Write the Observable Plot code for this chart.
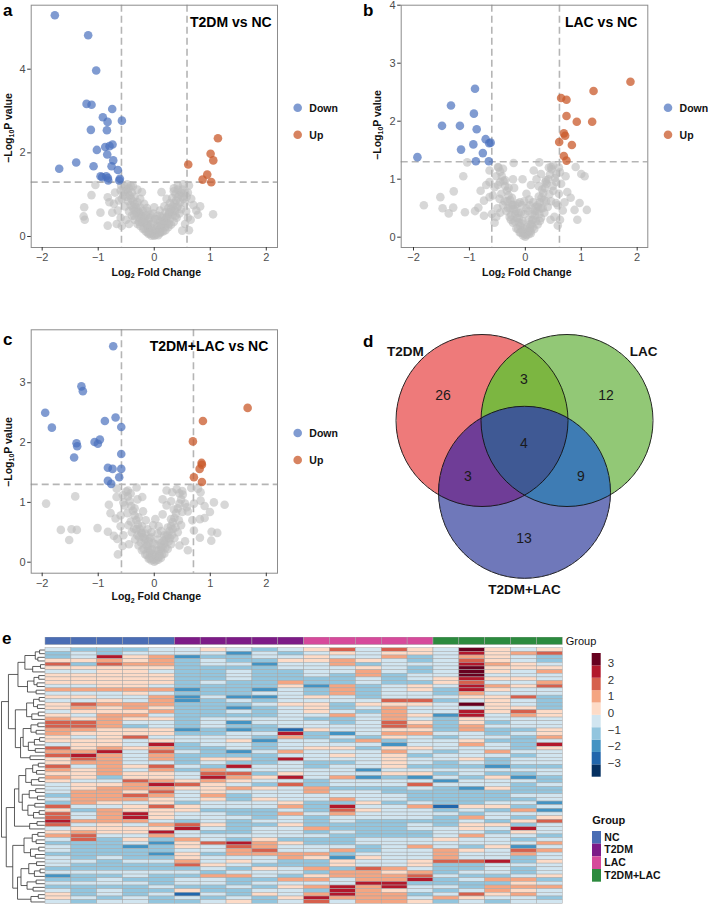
<!DOCTYPE html>
<html><head><meta charset="utf-8">
<script src="https://cdn.jsdelivr.net/npm/d3@7"></script>
<script src="https://cdn.jsdelivr.net/npm/@observablehq/plot@0.6"></script>
<style>
body{margin:0;background:#fff;}
#root{position:relative;width:708px;height:905px;overflow:hidden;background:#fff;font-family:"Liberation Sans",Arial,Helvetica,sans-serif;}
#root svg{position:absolute;}
</style></head>
<body><div id="root"></div>
<script>
// ---------------- DATA ----------------
// Volcano a: T2DM vs NC  ([log2FC, -log10 P])
const aDown = [[-1.774,5.29],[-1.179,4.81],[-1.036,3.97],[-1.208,3.17],[-1.119,3.15],[-0.75,3.05],[-0.917,2.85],[-0.833,2.74],[-0.577,2.77],[-1.131,2.55],[-0.845,2.54],[-0.744,2.2],[-0.798,2.16],[-0.875,2.14],[-1.024,2.07],[-0.839,1.96],[-0.732,1.82],[-1.393,1.77],[-1.083,1.68],[-0.762,1.68],[-1.696,1.62],[-0.649,1.59],[-0.929,1.42],[-0.857,1.44],[-0.827,1.4],[-0.613,1.38],[-0.958,1.44],[-0.821,1.34],[-0.625,1.34]];
const aUp = [[1.137,2.35],[1.006,1.98],[1.054,1.82],[0.607,1.72],[0.946,1.48],[0.863,1.36],[1.018,1.3]];
const aGrey = [[0,0.02],[-0.02,0.05],[0.03,0.04],[-0.05,0.1],[0.06,0.12],[-0.08,0.15],[0.09,0.18],[-0.11,0.22],[0.12,0.2],[-0.14,0.28],[0.15,0.3],[-0.17,0.33],[0.18,0.36],[-0.2,0.4],[0.21,0.44],[-0.23,0.48],[0.24,0.5],[-0.26,0.55],[0.27,0.58],[-0.29,0.62],[0.3,0.66],[-0.32,0.7],[0.33,0.72],[-0.35,0.77],[0.36,0.8],[-0.38,0.84],[0.39,0.86],[-0.41,0.9],[0.42,0.93],[-0.44,0.98],[0.45,1.0],[-0.47,1.05],[0.48,1.05],[-0.5,1.12],[0.5,1.12],[-0.53,1.2],[-0.1,0.06],[0.1,0.08],[-0.15,0.12],[0.16,0.12],[-0.2,0.18],[0.2,0.15],[-0.25,0.25],[0.25,0.22],[-0.3,0.3],[0.3,0.28],[-0.35,0.4],[0.35,0.35],[-0.4,0.5],[0.4,0.45],[-0.45,0.6],[0.45,0.55],[-0.05,0.3],[0.05,0.25],[-0.1,0.4],[0.1,0.35],[-0.15,0.5],[0.15,0.45],[-0.2,0.6],[0.2,0.58],[-0.25,0.7],[0.25,0.68],[-0.3,0.82],[0.28,0.8],[-0.35,0.95],[0.32,0.92],[-0.4,1.05],[0.38,1.02],[-0.45,1.15],[0.42,1.12],[-1.25,0.7],[-1.26,0.48],[-1.24,0.4],[-1.12,0.99],[-1.05,1.23],[-0.96,0.57],[-0.83,0.26],[-0.83,0.94],[-0.8,0.82],[-0.72,0.78],[-0.75,0.57],[-0.63,0.86],[-0.59,1.22],[-0.55,0.98],[-0.6,0.45],[-0.58,0.25],[-0.65,0.62],[-0.7,1.05],[-0.67,0.3],[-0.52,0.72],[-0.5,0.4],[-0.45,0.3],[-0.38,1.2],[-0.3,1.12],[-0.22,1.06],[0.13,1.06],[0.35,1.15],[0.42,1.22],[0.52,1.25],[0.6,1.05],[0.62,1.22],[0.66,0.9],[0.7,0.75],[0.55,0.8],[0.57,0.6],[0.6,0.45],[0.65,0.4],[0.55,0.3],[0.5,0.14],[0.75,0.62],[0.82,0.72],[0.78,0.52],[1.05,0.53],[0.62,0.15],[0.48,0.65],[0.52,0.9],
  [-0.05,0.02],[0.07,0.03],[-0.12,0.1],[0.13,0.12],[-0.18,0.2],[0.19,0.22],[-0.22,0.35],[0.22,0.32],[-0.27,0.45],[0.28,0.42],[-0.32,0.55],[0.33,0.52],[-0.37,0.65],[0.37,0.62],[-0.42,0.75],[0.42,0.72],[-0.47,0.85],[0.46,0.82],[-0.5,0.95],[0.5,0.95],[-0.55,1.08],[0.55,1.05],[-0.08,0.45],[0.06,0.42],[-0.12,0.6],[0.1,0.62],[-0.02,0.55],[0,0.7],[-0.18,0.78],[0.18,0.72],[-0.25,0.9],[0.22,0.9],[-0.42,1.22],[-0.48,1.25],[0.35,1.08],[0.4,0.7],[-0.38,0.7],[-0.6,1.1],[-0.58,0.9],[0.58,0.95],
  [-0.03,0.14],[0.03,0.16],[-0.07,0.22],[0.08,0.24],[-0.12,0.3],[0.12,0.28],[-0.17,0.42],[0.17,0.38],[-0.22,0.5],[0.23,0.46],[-0.28,0.58],[0.27,0.55],[-0.02,0.35],[0.02,0.42],[-0.07,0.52],[0.06,0.5],[-0.13,0.68],[0.12,0.48],[-0.33,0.6],[0.32,0.6],[-0.27,0.35],[0.26,0.3],[-0.36,0.5],[0.38,0.5],[-0.08,0.08],[0.09,0.1]];

// Volcano b: LAC vs NC
const bDown = [[-1.93,1.38],[-1.49,1.92],[-1.33,2.27],[-1.17,1.92],[-1.15,1.51],[-0.9,2.56],[-0.92,2.13],[-0.87,1.86],[-0.93,1.6],[-0.71,1.69],[-0.76,1.45],[-0.62,1.63],[-0.647,1.62],[-0.885,1.31],[-0.653,1.31]];
const bUp = [[1.88,2.68],[1.22,2.52],[0.64,2.4],[0.736,2.37],[0.736,2.09],[0.92,1.99],[1.195,1.99],[0.689,1.79],[0.712,1.75],[0.605,1.64],[0.832,1.59],[0.689,1.4],[0.736,1.32]];
const bGrey = [[0,0.01],[0.02,0.04],[-0.03,0.06],[0.05,0.1],[-0.06,0.12],[0.08,0.16],[-0.09,0.19],[0.11,0.22],[-0.12,0.26],[0.14,0.3],[-0.15,0.33],[0.17,0.38],[-0.18,0.4],[0.2,0.45],[-0.21,0.48],[0.23,0.52],[-0.24,0.56],[0.26,0.6],[-0.27,0.64],[0.29,0.68],[-0.3,0.72],[0.32,0.76],[-0.33,0.8],[0.35,0.85],[-0.36,0.88],[0.38,0.92],[-0.39,0.97],[0.41,1.0],[-0.42,1.05],[0.44,1.08],[-0.45,1.13],[0.47,1.17],[-0.48,1.2],[0.5,1.24],[-0.1,0.08],[0.1,0.07],[-0.16,0.15],[0.16,0.14],[-0.22,0.25],[0.22,0.22],[-0.28,0.35],[0.28,0.33],[-0.34,0.45],[0.34,0.42],[-0.4,0.55],[0.4,0.52],[-0.46,0.66],[0.46,0.62],[-0.05,0.28],[0.06,0.3],[-0.12,0.42],[0.12,0.4],[-0.18,0.55],[0.18,0.52],[-0.24,0.68],[0.24,0.7],[-0.3,0.85],[0.3,0.82],[-0.36,0.98],[0.36,0.95],[-0.2,0.85],[0.2,1.0],[-0.1,0.6],[0.08,0.55],[-1.815,0.55],[-1.52,0.69],[-1.48,0.5],[-1.28,0.79],[-1.29,0.51],[-1.37,0.41],[-1.08,0.43],[-1.11,1.05],[-1.04,1.29],[-0.8,0.8],[-0.74,0.63],[-0.84,0.51],[-0.74,0.37],[-0.64,0.69],[-0.64,0.95],[-0.64,1.15],[-0.49,1.21],[-0.21,1.28],[-0.55,0.86],[-0.9,0.45],[-0.6,0.4],[-0.55,0.25],[-0.5,0.5],[-0.7,0.9],[0.25,1.29],[0.28,1.09],[0.37,0.98],[0.46,1.21],[0.55,1.09],[0.64,0.92],[0.9,1.21],[1.0,1.09],[1.06,1.05],[0.81,0.68],[0.97,0.59],[1.1,0.47],[0.88,0.47],[0.93,0.3],[0.67,0.46],[0.55,0.59],[0.6,0.75],[0.7,0.6],[0.52,0.35],[0.58,0.2],[0.62,0.3],[0.75,0.78],[0.5,0.8],[0.15,1.15],[0.1,0.9],[-0.05,1.0],[0.62,1.12],[0.6,1.2],[0.72,1.05],
  [-0.04,0.03],[0.06,0.05],[-0.13,0.14],[0.13,0.17],[-0.19,0.27],[0.19,0.28],[-0.25,0.38],[0.25,0.4],[-0.31,0.5],[0.31,0.5],[-0.37,0.62],[0.37,0.62],[-0.43,0.75],[0.43,0.74],[-0.49,0.9],[0.49,0.88],[-0.52,1.05],[0.53,1.02],[-0.08,0.42],[0.05,0.45],[-0.14,0.58],[0.14,0.6],[-0.02,0.62],[0.02,0.75],[-0.22,1.0],[0.24,0.88],[-0.4,1.18],[-0.45,0.95],[0.42,1.2],[0.55,0.95],[-0.58,0.72],[0.58,0.55],[-0.52,0.35],[-0.45,0.42],[0.45,0.3],
  [-0.03,0.15],[0.03,0.17],[-0.07,0.24],[0.08,0.22],[-0.12,0.33],[0.12,0.3],[-0.17,0.45],[0.17,0.45],[-0.22,0.55],[0.22,0.55],[-0.27,0.5],[0.28,0.5],[-0.02,0.4],[0.02,0.5],[-0.06,0.55],[0.07,0.65],[-0.32,0.62],[0.33,0.64],[-0.26,0.3],[0.26,0.28],[-0.08,0.08],[0.09,0.1]];

// Volcano c: T2DM+LAC vs NC
const cDown = [[-0.732,3.61],[-1.3,2.94],[-1.274,2.86],[-1.946,2.5],[-1.827,2.25],[-0.881,2.36],[-0.69,2.42],[-0.589,2.26],[-1.065,2.01],[-0.97,2.05],[-1.006,1.98],[-1.387,1.99],[-1.375,1.94],[-1.43,1.75],[-0.589,1.81],[-0.827,1.58],[-0.744,1.56],[-0.589,1.56],[-0.625,1.42],[-0.827,1.36],[-0.768,1.31]];
const cUp = [[1.667,2.58],[0.869,2.36],[0.69,2.02],[0.845,1.66],[0.851,1.63],[0.81,1.56],[0.708,1.42],[0.851,1.34]];
const cGrey = [[0,0.01],[0.03,0.03],[-0.02,0.05],[0.06,0.08],[-0.05,0.1],[0.09,0.13],[-0.08,0.16],[0.12,0.19],[-0.11,0.22],[0.15,0.25],[-0.14,0.28],[0.18,0.31],[-0.17,0.35],[0.21,0.38],[-0.2,0.42],[0.24,0.45],[-0.23,0.49],[0.27,0.52],[-0.26,0.56],[0.3,0.6],[-0.29,0.63],[0.33,0.67],[-0.32,0.7],[0.36,0.74],[-0.35,0.78],[0.39,0.82],[-0.38,0.86],[0.42,0.9],[-0.41,0.94],[0.45,0.98],[-0.44,1.02],[0.48,1.05],[-0.47,1.1],[0.51,1.13],[-0.5,1.18],[-0.1,0.06],[0.12,0.07],[-0.16,0.13],[0.18,0.14],[-0.22,0.2],[0.24,0.22],[-0.28,0.28],[0.3,0.3],[-0.34,0.38],[0.36,0.4],[-0.4,0.5],[0.42,0.5],[-0.46,0.62],[0.48,0.62],[-0.04,0.22],[0.05,0.2],[-0.1,0.35],[0.12,0.32],[-0.16,0.48],[0.18,0.45],[-0.22,0.6],[0.24,0.58],[-0.28,0.75],[0.3,0.72],[-0.35,0.9],[0.35,0.88],[-0.15,0.7],[0.15,0.8],[0.08,0.6],[-0.05,0.5],[-1.93,0.98],[-1.41,1.1],[-1.667,0.54],[-1.476,0.55],[-1.381,0.54],[-1.518,0.37],[-1.012,0.57],[-0.81,0.96],[-0.78,0.82],[-0.827,0.51],[-0.72,0.44],[-0.66,0.39],[-0.649,0.13],[-0.565,0.27],[-0.69,0.73],[-0.673,1.09],[-0.67,1.23],[-0.47,1.2],[-0.315,1.25],[-0.214,1.09],[-0.55,1.0],[-0.6,0.6],[-0.55,0.45],[0.661,1.24],[0.78,1.23],[0.827,1.17],[0.5,1.19],[0.32,1.17],[0.708,0.98],[0.827,1.03],[1.065,1.0],[1.256,0.96],[0.899,0.94],[0.994,0.84],[0.815,0.72],[0.899,0.74],[1.024,0.51],[1.125,0.49],[1.018,0.36],[0.815,0.41],[0.708,0.53],[0.68,0.7],[0.6,0.85],[0.55,0.35],[0.6,0.2],[0.15,1.05],[0.22,1.2],[0.4,1.22],
  [-0.05,0.03],[0.07,0.04],[-0.13,0.12],[0.14,0.13],[-0.19,0.22],[0.2,0.24],[-0.24,0.33],[0.26,0.35],[-0.3,0.45],[0.32,0.46],[-0.36,0.56],[0.38,0.58],[-0.42,0.68],[0.44,0.7],[-0.48,0.82],[0.5,0.84],[-0.53,0.95],[0.55,0.98],[-0.08,0.4],[0.07,0.38],[-0.12,0.55],[0.12,0.52],[-0.02,0.62],[0.02,0.72],[-0.2,0.85],[0.22,0.95],[-0.42,1.15],[-0.56,1.12],[0.45,1.15],[0.58,0.92],[-0.6,0.78],[-0.45,0.3],[0.45,0.28],[-0.3,1.05],[0.3,1.02],
  [-0.03,0.13],[0.03,0.12],[-0.07,0.2],[0.08,0.2],[-0.12,0.28],[0.12,0.26],[-0.17,0.4],[0.17,0.36],[-0.22,0.48],[0.22,0.44],[-0.27,0.42],[0.28,0.4],[-0.02,0.32],[0.02,0.3],[-0.06,0.42],[0.06,0.48],[-0.32,0.55],[0.33,0.55],[-0.08,0.07],[0.09,0.09]];

// Venn d
const vennSets = ["T2DM","LAC","T2DM+LAC"];
const vennMasks = [1,2,3,4,5,6,7];           // bit 1=T2DM, 2=LAC, 4=T2DM+LAC
const vennCounts = [26,12,3,13,3,9,4];
const vennColors = ["#ee7a7a","#92c876","#7cb641","#6f78ba","#6f3d97","#3e7cb4","#3f5994"];

// Heatmap e (z-scores, 70 metabolites x 20 samples)
const groups = ["NC","T2DM","LAC","T2DM+LAC"];
const groupColors = ["#4a6db4","#7d1b87","#d64a9b","#2c8a3e"];
const samples = ["NC1","NC2","NC3","NC4","NC5","T2DM1","T2DM2","T2DM3","T2DM4","T2DM5","LAC1","LAC2","LAC3","LAC4","LAC5","TL1","TL2","TL3","TL4","TL5"];
const NC1 = [-0.4,-1.1,-1.1,0.4,1.9,0.4,-0.4,0.4,0.4,0.4,-0.4,1.1,-0.4,0.4,-0.4,0.4,0.4,-0.4,0.4,1.1,1.9,1.9,1.1,1.1,0.4,0.4,-0.4,1.9,1.1,1.9,0.4,0.4,1.9,1.1,0.4,1.1,0.4,-0.4,-0.4,-0.4,-1.1,-0.4,-1.1,1.9,0.4,1.9,1.9,2.6,1.9,-0.4,0.4,1.1,-0.4,-1.1,-0.4,-0.4,-1.1,-0.4,-0.4,-0.4,-1.1,-0.4,-1.9,-1.1,-0.4,-1.1,-0.4,0.4,0.4,-0.4];
const NC2 = [-1.1,-0.4,-0.4,0.4,-1.1,0.4,-0.4,0.4,0.4,0.4,-0.4,1.1,-0.4,0.4,-0.4,1.9,1.1,0.4,-0.4,0.4,1.9,1.9,1.1,0.4,-0.4,0.4,0.4,0.4,1.1,2.6,1.9,1.1,-0.4,0.4,0.4,0.4,-0.4,0.4,0.4,1.1,1.1,1.1,1.1,-0.4,-1.1,-0.4,-0.4,1.1,-0.4,0.4,1.1,1.9,1.9,-1.1,-1.1,-1.1,-1.1,-1.1,-0.4,-1.1,-1.1,-0.4,-1.1,-1.1,-0.4,-1.1,-1.1,-1.1,-0.4,-1.1];
const NC3 = [-1.1,-1.1,2.6,1.1,1.9,0.4,0.4,0.4,0.4,0.4,0.4,1.1,-0.4,-0.4,0.4,1.1,0.4,0.4,1.1,1.1,1.1,1.1,0.4,0.4,0.4,0.4,0.4,1.1,2.6,1.1,1.1,1.1,1.1,1.1,1.1,-1.1,-0.4,0.4,1.1,1.1,1.1,1.1,0.4,-0.4,1.1,1.1,1.1,1.1,0.4,0.4,0.4,-0.4,-1.1,-1.1,-1.1,-1.1,-1.1,-0.4,-1.1,-1.1,-1.1,-0.4,-1.1,-0.4,-0.4,-1.1,-0.4,-0.4,-1.1,-0.4];
const NC4 = [-1.1,-0.4,0.4,0.4,1.1,0.4,0.4,0.4,0.4,0.4,0.4,1.1,0.4,-0.4,-0.4,1.1,1.1,0.4,1.1,0.4,-0.4,-1.1,0.4,0.4,1.9,-0.4,-0.4,0.4,-0.4,-0.4,-0.4,-0.4,0.4,-0.4,0.4,0.4,1.9,1.1,1.1,0.4,1.9,1.1,-0.4,0.4,0.4,2.6,2.6,1.1,-0.4,0.4,0.4,-0.4,0.4,-0.4,-1.9,-1.1,-1.1,-1.1,-0.4,-1.1,-1.1,-0.4,-0.4,-1.1,-0.4,-1.1,-1.1,-1.1,-0.4,-0.4];
const NC5 = [-0.4,-0.4,1.1,1.1,1.1,0.4,-0.4,0.4,0.4,0.4,-0.4,1.1,-0.4,1.1,1.1,1.1,0.4,1.1,-0.4,0.4,-0.4,-0.4,0.4,0.4,-0.4,0.4,2.6,1.1,1.9,1.1,1.1,-0.4,1.9,1.1,0.4,0.4,1.1,2.6,1.1,1.9,1.1,0.4,0.4,1.9,0.4,0.4,0.4,-0.4,1.1,0.4,2.6,1.1,-1.1,-1.9,-1.1,-1.1,-1.9,-1.1,-0.4,-1.1,-1.1,-0.4,-1.1,-1.1,-1.1,-0.4,-1.1,-0.4,-1.1,-1.1];
const T2DM1 = [-0.4,-0.4,-1.9,-1.1,-1.1,-1.1,-1.1,-1.1,-1.1,-1.1,-1.1,-1.9,-1.1,-1.9,-1.9,-1.1,-1.1,-1.1,-1.1,-1.1,-1.1,-1.1,-1.9,-1.1,-0.4,-0.4,-1.1,-1.1,-0.4,-1.1,-1.1,-1.1,-0.4,-1.1,-0.4,-0.4,0.4,1.9,0.4,-0.4,-0.4,-0.4,-1.1,0.4,0.4,-0.4,-0.4,-1.1,1.9,2.6,-0.4,-0.4,1.1,0.4,0.4,-0.4,0.4,0.4,1.1,1.9,-1.1,-0.4,-1.1,-0.4,-0.4,-1.1,0.4,-2.6,-0.4,-1.1];
const T2DM2 = [0.4,-0.4,-1.1,-0.4,-0.4,-1.1,-1.1,-1.1,-1.1,-0.4,-1.1,-1.1,-1.1,-0.4,-1.1,-1.1,-1.1,-1.1,-1.1,-0.4,-0.4,-0.4,-1.1,-1.1,-0.4,-0.4,-0.4,-1.1,-1.1,-1.1,0.4,-0.4,-1.1,1.1,1.9,2.6,1.1,0.4,0.4,0.4,1.1,0.4,-0.4,-0.4,-1.1,-0.4,-0.4,-0.4,0.4,-0.4,-1.1,-0.4,-0.4,1.9,-0.4,-0.4,-1.1,-0.4,-0.4,0.4,-0.4,-1.1,1.1,-0.4,-0.4,-1.1,-1.1,-0.4,-1.1,-0.4];
const T2DM3 = [-0.4,-1.9,-1.1,-1.1,-0.4,-1.1,-0.4,-0.4,-0.4,-1.1,-1.1,-1.1,-1.1,-1.9,-0.4,-1.1,-1.9,-0.4,-1.1,-0.4,-1.9,-1.1,-1.9,-0.4,-0.4,0.4,-0.4,-0.4,-1.9,-1.1,0.4,-1.1,2.6,-0.4,1.9,1.1,0.4,-0.4,1.1,-0.4,-1.1,-1.1,-0.4,-0.4,-1.1,-1.1,-0.4,-1.1,-1.1,-1.1,-1.1,-0.4,-1.1,2.6,1.9,1.1,1.1,-0.4,0.4,-0.4,-1.1,-0.4,1.1,-1.1,-1.1,-0.4,-1.1,-1.1,-0.4,0.4];
const T2DM4 = [-1.1,-0.4,-0.4,-1.1,-1.9,-1.1,-1.1,-1.1,-1.1,-1.1,-1.1,-1.9,-0.4,-1.9,-1.1,-0.4,-1.1,-1.1,-1.1,-0.4,-0.4,-1.1,-1.1,-0.4,-1.1,-1.9,-1.1,-1.1,-0.4,-1.1,-1.1,-1.1,-0.4,-0.4,-1.1,0.4,-0.4,-1.1,0.4,-0.4,-0.4,0.4,-0.4,-0.4,-1.1,-1.1,-1.1,-0.4,-1.1,-0.4,-0.4,-0.4,0.4,1.1,1.1,1.9,1.1,-0.4,-0.4,-1.1,0.4,-0.4,-0.4,-1.1,-0.4,-1.1,-0.4,0.4,-1.1,-1.1];
const T2DM5 = [-0.4,-1.1,-0.4,0.4,-0.4,-0.4,-1.1,-1.1,-1.1,1.1,0.4,-0.4,-0.4,-0.4,-0.4,0.4,-0.4,-0.4,-0.4,-0.4,-0.4,-0.4,-2.6,2.6,1.1,-0.4,-0.4,-0.4,1.1,-0.4,2.6,-0.4,-0.4,-0.4,0.4,2.6,-0.4,1.9,-0.4,-0.4,-0.4,-0.4,0.4,1.1,-0.4,1.1,-0.4,-0.4,0.4,-0.4,-0.4,-0.4,-1.1,0.4,-0.4,-0.4,1.1,1.1,-1.1,-1.1,-0.4,-0.4,-1.1,1.1,-0.4,0.4,-0.4,-0.4,0.4,-0.4];
const LAC1 = [0.4,-0.4,0.4,0.4,-0.4,-0.4,-0.4,-0.4,-1.1,-1.1,-1.9,-1.1,-1.1,0.4,-0.4,0.4,0.4,0.4,-0.4,-1.1,-0.4,-0.4,0.4,-1.1,-1.1,-0.4,-0.4,0.4,-0.4,-0.4,-0.4,-1.1,-1.1,-0.4,-0.4,-0.4,-1.1,-1.1,1.1,1.1,-0.4,-0.4,-1.1,-1.1,-1.1,-0.4,-1.1,-1.1,-1.1,1.1,-1.1,-0.4,-1.1,-1.1,-0.4,-0.4,1.1,0.4,-1.1,-1.1,1.1,-1.1,0.4,1.1,-0.4,1.1,-1.1,1.1,2.6,1.9];
const LAC2 = [1.9,0.4,-0.4,1.1,1.1,-0.4,-0.4,-1.1,-1.1,-1.1,1.1,1.1,1.1,-0.4,-0.4,-1.1,-1.1,-0.4,1.1,-1.1,-1.1,-0.4,-0.4,-1.9,-0.4,-1.1,-0.4,0.4,-0.4,0.4,-0.4,-1.1,-0.4,-0.4,-0.4,1.1,-0.4,-0.4,-1.1,-0.4,-0.4,1.1,-1.1,2.6,1.9,1.1,-0.4,-0.4,-1.1,-1.1,-0.4,-1.1,-1.1,-1.1,-0.4,1.1,-1.1,-1.9,0.4,0.4,-1.1,1.1,1.1,-0.4,-0.4,2.6,2.6,2.6,1.1,-0.4];
const LAC3 = [-0.4,-0.4,-0.4,0.4,-1.1,0.4,1.1,1.1,-0.4,-0.4,-1.1,-1.1,-1.1,-1.1,-0.4,0.4,-0.4,-1.1,-0.4,-0.4,-0.4,-0.4,-0.4,-0.4,-1.1,1.1,-0.4,-1.1,-0.4,-0.4,-0.4,-0.4,-0.4,-1.9,-0.4,-1.9,-0.4,-0.4,-1.1,-0.4,-0.4,-0.4,0.4,-0.4,0.4,-0.4,-0.4,-1.1,-1.1,-1.1,-1.1,-1.1,-0.4,-0.4,-1.1,-1.1,-0.4,0.4,-0.4,-0.4,1.9,1.1,1.1,1.1,2.6,1.1,1.1,1.1,1.1,1.1];
const LAC4 = [1.9,0.4,1.1,-0.4,-0.4,-0.4,-0.4,-1.1,-1.1,-1.1,-0.4,-0.4,-0.4,-0.4,1.9,0.4,1.1,1.1,1.1,1.1,1.9,1.9,0.4,1.1,0.4,-1.1,-1.9,0.4,1.1,0.4,0.4,0.4,0.4,-0.4,0.4,-1.1,-0.4,-0.4,-1.1,-1.1,-0.4,-0.4,-1.1,-0.4,-0.4,-0.4,-0.4,-1.1,-1.1,-1.1,-1.1,-1.1,-0.4,-0.4,-0.4,-0.4,-0.4,-0.4,-0.4,-0.4,1.1,0.4,1.1,1.1,2.6,2.6,0.4,1.1,1.1,1.1];
const LAC5 = [0.4,0.4,-1.1,-1.1,-0.4,-1.1,-1.1,-0.4,-0.4,-1.1,0.4,0.4,-0.4,-0.4,1.9,0.4,-0.4,-0.4,0.4,-0.4,0.4,1.1,0.4,1.1,-0.4,-0.4,-0.4,0.4,-0.4,-1.1,-0.4,-0.4,-1.1,-0.4,0.4,-1.9,-0.4,1.9,-0.4,-1.1,-1.1,-1.1,-0.4,1.1,-0.4,-0.4,-0.4,-1.1,-0.4,-0.4,-1.1,-1.1,-0.4,-0.4,1.1,-0.4,-0.4,-0.4,0.4,0.4,-0.4,1.1,1.9,2.6,-1.1,-0.4,-0.4,-1.1,-0.4,0.4];
const TL1 = [-0.4,-0.4,-0.4,-0.4,-0.4,-0.4,-0.4,-0.4,0.4,0.4,-0.4,-1.1,-1.1,-0.4,-1.1,-0.4,-0.4,-0.4,-1.9,-1.1,-1.1,-1.1,-1.1,-0.4,-1.1,-0.4,-0.4,-0.4,-1.1,-0.4,-0.4,-1.1,-1.1,-0.4,-1.1,-0.4,-1.9,-0.4,-1.1,-1.1,-1.1,-1.1,-1.1,-2.6,-1.1,-0.4,-1.1,-1.1,-1.1,-0.4,-0.4,-0.4,0.4,-0.4,-0.4,1.1,1.1,1.1,1.9,-1.1,-1.1,-1.1,-0.4,-1.1,-1.1,-0.4,-1.1,-0.4,1.1,-1.1];
const TL2 = [3.3,2.6,1.1,1.9,2.6,3.3,3.3,3.3,2.6,1.9,2.6,2.6,1.1,0.4,-0.4,3.3,-0.4,2.6,2.6,0.4,0.4,1.1,1.1,-0.4,-0.4,0.4,1.1,-0.4,-0.4,-0.4,0.4,-0.4,-1.1,-0.4,-0.4,-1.1,-0.4,-0.4,-1.9,-1.1,-1.1,-1.1,-1.1,0.4,-0.4,-1.1,1.1,-0.4,0.4,0.4,-0.4,1.1,-0.4,-0.4,-1.1,0.4,-0.4,-0.4,1.9,-1.1,-1.1,-0.4,-1.1,-0.4,-1.1,-1.1,-0.4,1.9,0.4,-0.4];
const TL3 = [0.4,0.4,0.4,0.4,1.1,0.4,0.4,-0.4,0.4,-0.4,1.1,0.4,-0.4,0.4,0.4,0.4,0.4,0.4,-0.4,-0.4,-1.1,-0.4,-1.1,-1.1,-0.4,-1.1,-0.4,-0.4,1.1,-0.4,-1.1,-1.1,-1.9,-0.4,-1.1,0.4,-0.4,-0.4,0.4,-1.1,-1.1,-1.1,-0.4,0.4,-1.1,-0.4,-0.4,-1.1,0.4,-0.4,-1.1,-0.4,-0.4,-0.4,0.4,-0.4,-0.4,-0.4,2.6,-0.4,-0.4,-0.4,-1.1,1.1,-1.1,1.1,1.1,0.4,-0.4,-1.1];
const TL4 = [-0.4,1.1,-0.4,-0.4,0.4,0.4,-0.4,-0.4,0.4,-0.4,0.4,-0.4,-0.4,1.9,-0.4,-0.4,0.4,1.9,1.1,-0.4,-0.4,-0.4,-1.1,-0.4,-1.1,-1.1,-1.1,-1.1,-0.4,-1.1,-0.4,-0.4,-1.1,-0.4,-1.1,-1.9,-0.4,-1.1,-1.1,-1.1,-0.4,-1.1,-0.4,-1.1,1.1,-0.4,-1.1,0.4,-1.1,2.6,0.4,-0.4,-1.1,-0.4,-1.9,1.9,1.1,-1.1,-1.1,-0.4,-1.1,-1.1,-0.4,1.1,0.4,1.1,0.4,1.1,-0.4,-0.4];
const TL5 = [0.4,1.9,-1.1,-1.1,-0.4,0.4,1.1,-0.4,-0.4,1.1,1.9,-0.4,-0.4,-1.1,-1.1,-1.1,-1.1,0.4,0.4,-0.4,-0.4,-0.4,0.4,0.4,1.1,-0.4,2.6,0.4,-0.4,-0.4,-0.4,-0.4,-1.1,-0.4,-0.4,-1.1,-1.1,-0.4,-1.1,-1.1,-0.4,-0.4,-1.9,-0.4,-1.9,-0.4,0.4,1.9,-0.4,-0.4,-0.4,-1.1,-0.4,1.1,-0.4,1.1,-0.4,-0.4,0.4,-0.4,-0.4,-0.4,0.4,-1.1,-0.4,1.1,-0.4,-0.4,-1.1,-0.4];
const hmValues = {NC1,NC2,NC3,NC4,NC5,T2DM1,T2DM2,T2DM3,T2DM4,T2DM5,LAC1,LAC2,LAC3,LAC4,LAC5,TL1,TL2,TL3,TL4,TL5};
const hmThresholds = [-2.96,-2.22,-1.48,-0.74,0,0.74,1.48,2.22,2.96];
const hmColors = ["#053061","#2166ac","#4393c3","#92c5de","#d1e5f0","#fddbc7","#f4a582","#d6604d","#b2182b","#67001f"];
const hmLegendTicks = [-3,-2,-1,0,1,2,3];
// row dendrogram: [mergeHeight, left, right]; leaves = row index
const dendro = [10,
  [8.4,
    [6.2, [4.6,[2.2,[1.2,0,1],[1.6,2,3]],[2.8,[1.0,4,5],6]], [4.0,[2.5,[1.4,7,8],[1.8,9,10]],[2.0,11,12]]],
    [6.8, [4.2,[2.6,[1.3,13,14],[1.7,15,16]],[3.0,[1.5,17,18],19]],
          [5.6, [5.0,[3.2,[1.6,20,21],[2.0,22,23]],[3.8,[2.4,[1.2,24,25],26],[2.2,27,28]]], [3.4,29,30]]]],
  [8.9,
    [7.0, [6.0,[4.4,[2.8,[1.5,31,32],[1.9,33,34]],[3.1,[1.4,35,36],37]],
               [5.2,[3.6,[2.1,38,39],[1.7,40,41]],[3.9,[2.3,42,43],[2.6,[1.3,44,45],46]]]],
          [3.5,[1.8,47,48],49]],
    [7.4, [4.8,[2.9,[1.6,50,51],[2.0,52,53]],[3.3,[1.4,54,55],[2.2,56,57]]],
          [6.3, [5.5,[3.7,[1.9,58,59],[2.4,[1.1,60,61],62]],[4.1,[2.0,63,64],[2.7,65,66]]], [3.2,[1.5,67,68],69]]]]];

// ---------------- RENDER ----------------
const FONT = '"Liberation Sans", Arial, Helvetica, sans-serif';
const C_DOWN = "#4a70bd", C_UP = "#c9592b", C_GREY = "#bdbdbd";
const fmtTick = d => (d < 0 ? "\u2212" : "") + Math.abs(d);
const root = document.getElementById("root");
function put(node, left, top){ node.style.left = left + "px"; node.style.top = top + "px"; root.appendChild(node); return node; }

function volcano(o){
  const xy = {x: d => d[0], y: d => d[1], r: 4.3};
  return Plot.plot({
    width: o.w, height: o.h, marginLeft: o.ml, marginRight: o.mr, marginTop: o.mt, marginBottom: o.mb,
    x: {domain: o.xd}, y: {domain: o.yd},
    style: {background: "none", fontFamily: FONT, fontSize: "11px", color: "#4d4d4d", overflow: "visible"},
    marks: [
      Plot.dot(o.grey, {...xy, fill: C_GREY, fillOpacity: 0.6}),
      Plot.ruleX(o.vl, {stroke: "#b5b5b5", strokeWidth: 1.6, strokeDasharray: "7,4"}),
      Plot.ruleY([o.hl], {stroke: "#b5b5b5", strokeWidth: 1.6, strokeDasharray: "7,4"}),
      Plot.dot(o.down, {...xy, fill: C_DOWN, fillOpacity: 0.7}),
      Plot.dot(o.up, {...xy, fill: C_UP, fillOpacity: 0.75}),
      Plot.frame({stroke: "#8c8c8c"}),
      Plot.axisX({ticks: [-2,-1,0,1,2], tickFormat: fmtTick, tickSize: 3.5, tickPadding: 2, stroke: "#333", label: null}),
      Plot.axisY({ticks: o.yt, tickFormat: fmtTick, tickSize: 3.5, tickPadding: 2, stroke: "#333", label: null})
    ]
  });
}

put(volcano({w:290,h:262,ml:30.7,mr:13,mt:4.7,mb:15,xd:[-2.196,2.2],yd:[-0.263,5.53],yt:[0,2,4],
  grey:aGrey,down:aDown,up:aUp,vl:[-0.585,0.585],hl:1.301}), 0, 0);
put(volcano({w:306,h:262,ml:46.7,mr:12.7,mt:4.7,mb:15,xd:[-2.22,2.19],yd:[-0.178,4],yt:[0,1,2,3,4],
  grey:bGrey,down:bDown,up:bUp,vl:[-0.6,0.61],hl:1.301}), 354, 0);
put(volcano({w:290,h:287,ml:30.7,mr:13,mt:29.3,mb:14.3,xd:[-2.196,2.2],yd:[-0.184,3.886],yt:[0,1,2,3],
  grey:cGrey,down:cDown,up:cUp,vl:[-0.585,0.7],hl:1.301}), 0, 300);

// ---- Venn ----
const vennCenters = [[127.5,120],[212.5,120],[170,191.8]], vennR = 86;
const maskAt = (x,y) => vennCenters.reduce((m,[cx,cy],i) => m | (((x-cx)**2 + (y-cy)**2 <= vennR*vennR) ? (1<<i) : 0), 0);
const colorByMask = {}; vennMasks.forEach((m,i) => colorByMask[m] = vennColors[i]);
// label position: the point of each region farthest from any circle boundary
const best = {}; vennMasks.forEach(m => best[m] = {d: -1, x: 0, y: 0});
for (let y = 0; y < 300; y++) for (let x = 0; x < 354; x++) {
  const px = x + 0.5, py = y + 0.5, k = maskAt(px, py);
  if (!k) continue;
  const d = Math.min(...vennCenters.map(([cx,cy]) => Math.abs(Math.hypot(px-cx, py-cy) - vennR)));
  if (d > best[k].d) best[k] = {d, x: px, y: py};
}
const vennLabels = vennMasks.map((m,i) => ({x: best[m].x, y: best[m].y, n: String(vennCounts[i])}));
const setAngles = [-138, -42, 90], setDist = [1.2, 1.2, 1.13];
const setLabels = vennSets.map((s,i) => ({s, x: vennCenters[i][0] + vennR*setDist[i]*Math.cos(setAngles[i]*Math.PI/180),
                                           y: vennCenters[i][1] + vennR*setDist[i]*Math.sin(setAngles[i]*Math.PI/180)}));
put(Plot.plot({
  width: 354, height: 300, margin: 0,
  x: {domain: [0,354], range: [0,354], axis: null}, y: {domain: [0,300], range: [0,300], axis: null},
  color: {type: "identity"},
  style: {background: "none", fontFamily: FONT},
  marks: [
    Plot.raster({x1: 0, y1: 0, x2: 354, y2: 300, pixelSize: 1, fill: (x,y) => { const k = maskAt(x,y); return k ? colorByMask[k] : "white"; }}),
    Plot.dot(vennCenters, {x: d => d[0], y: d => d[1], r: vennR, stroke: "#111", strokeWidth: 0.9, fill: "none"}),
    Plot.text(vennLabels, {x: "x", y: "y", text: "n", fontSize: 14, fill: "#1a1a1a"}),
    Plot.text(setLabels, {x: "x", y: "y", text: "s", fontSize: 13.5, fontWeight: "bold", fill: "#111"})
  ]
}), 354, 300);

// ---- Heatmap ----
const groupOf = s => s.startsWith("NC") ? "NC" : s.startsWith("T2DM") ? "T2DM" : s.startsWith("LAC") ? "LAC" : "T2DM+LAC";
const cells = samples.flatMap(s => hmValues[s].map((v,r) => ({s, r, v})));
const nRows = NC1.length;
const xBand = {type: "band", domain: samples, range: [45, 562.3], padding: 0, round: false, axis: null};
put(Plot.plot({
  width: 708, height: 275, margin: 0,
  x: xBand,
  y: {type: "band", domain: d3.range(nRows), range: [17.7, 273.3], padding: 0, round: false, axis: null},
  color: {type: "threshold", domain: hmThresholds, range: hmColors},
  style: {background: "none"},
  marks: [Plot.cell(cells, {x: "s", y: "r", fill: "v", stroke: "#a6a6a6", strokeWidth: 0.5, inset: 0})]
}), 0, 630);

put(Plot.plot({
  width: 708, height: 8, margin: 0, marginBottom: 0.4,
  x: xBand,
  color: {domain: groups, range: groupColors},
  style: {background: "none"},
  marks: [Plot.cell(samples, {x: d => d, fill: d => groupOf(d), stroke: "#a6a6a6", strokeWidth: 0.5, inset: 0})]
}), 0, 636.7);

const segs = [];
function walk(n){
  if (typeof n === "number") return {h: 0, y: n};
  const [h,a,b] = n; const A = walk(a), B = walk(b);
  segs.push({x1:h,y1:A.y,x2:h,y2:B.y},{x1:h,y1:A.y,x2:A.h,y2:A.y},{x1:h,y1:B.y,x2:B.h,y2:B.y});
  return {h, y: (A.y + B.y)/2};
}
walk(dendro);
put(Plot.plot({
  width: 46, height: 275, margin: 0,
  x: {domain: [10,0], range: [1,44.3], axis: null},
  y: {domain: [-0.5, nRows-0.5], range: [17.7, 273.3], axis: null},
  style: {background: "none"},
  marks: [Plot.link(segs, {x1:"x1", y1:"y1", x2:"x2", y2:"y2", stroke: "#333", strokeWidth: 0.8})]
}), 0, 630);

const lgBounds = [-3.7, ...hmThresholds, 3.7];
const lgBins = hmColors.map((c,i) => ({lo: lgBounds[i], hi: lgBounds[i+1], c}));
put(Plot.plot({
  width: 50, height: 140, marginLeft: 6.7, marginRight: 34.3, marginTop: 8, marginBottom: 8.3,
  x: {domain: [0,1], axis: null}, y: {domain: [-3.7, 3.7]},
  color: {type: "identity"},
  style: {background: "none", fontFamily: FONT, fontSize: "11.5px", color: "#333"},
  marks: [
    Plot.rect(lgBins, {x1: 0, x2: 1, y1: "lo", y2: "hi", fill: "c"}),
    Plot.axisY({anchor: "right", ticks: hmLegendTicks, tickFormat: fmtTick, tickSize: 0, tickPadding: 6.6, label: null, dy: -2})
  ]
}), 585, 645);

// ---- overlay text ----
const svg = d3.select(root).append("svg").attr("width", 708).attr("height", 905)
  .style("left","0px").style("top","0px").style("font-family", FONT);
function txt(x, y, s, o = {}) {
  return svg.append("text").attr("x", x).attr("y", y).text(s)
    .attr("font-size", o.size || 12).attr("font-weight", o.bold ? "bold" : "normal")
    .attr("text-anchor", o.anchor || "start").attr("fill", o.fill || "#000");
}
[["a",3,16],["b",363,16],["c",3,345],["d",363,346.7],["e",2,644]].forEach(([s,x,y]) => txt(x,y,s,{size:17,bold:true}));
txt(271.7, 26.5, "T2DM vs NC", {size:14, bold:true, anchor:"end"});
txt(637.3, 26.5, "LAC vs NC", {size:14, bold:true, anchor:"end"});
txt(268.3, 350.5, "T2DM+LAC vs NC", {size:14, bold:true, anchor:"end"});
function xLabel(cx, y){
  const t = svg.append("text").attr("x", cx).attr("y", y).attr("text-anchor","middle")
    .attr("font-size", 10.5).attr("font-weight","bold").attr("fill","#111");
  t.append("tspan").text("Log");
  t.append("tspan").attr("font-size", 7).attr("dy", 2.5).text("2");
  t.append("tspan").attr("dy", -2.5).text(" Fold Change");
}
function yLabel(x, cy){
  const t = svg.append("text").attr("transform", `translate(${x},${cy}) rotate(-90)`).attr("text-anchor","middle")
    .attr("font-size", 10.5).attr("font-weight","bold").attr("fill","#111");
  t.append("tspan").text("\u2212Log");
  t.append("tspan").attr("font-size", 7).attr("dy", 2.5).text("10");
  t.append("tspan").attr("dy", -2.5).text("P value");
}
xLabel(156.3, 275.5); xLabel(526.8, 275.5); xLabel(156.3, 600);
yLabel(11.7, 128); yLabel(380.5, 125); yLabel(11.7, 452);
function vLegend(x, y1, y2){
  svg.append("circle").attr("cx", x).attr("cy", y1).attr("r", 4.3).attr("fill", C_DOWN).attr("fill-opacity", 0.7);
  svg.append("circle").attr("cx", x).attr("cy", y2).attr("r", 4.3).attr("fill", C_UP).attr("fill-opacity", 0.75);
  txt(x + 11.6, y1 + 3.8, "Down", {size:10.5, bold:true, fill:"#111"});
  txt(x + 11.6, y2 + 3.8, "Up", {size:10.5, bold:true, fill:"#111"});
}
vLegend(297.7, 107.7, 134.7); vLegend(668, 107.7, 134.7); vLegend(297.7, 433, 460);
txt(565.7, 644.5, "Group", {size:11, fill:"#111"});
txt(592.3, 824.3, "Group", {size:11, bold:true, fill:"#111"});
groups.forEach((g,i) => {
  svg.append("rect").attr("x", 592).attr("y", 831 + i*12.67).attr("width", 9).attr("height", 12.67).attr("fill", groupColors[i]);
  txt(604.3, 840.8 + i*12.67, g, {size:10.5, bold:true, fill:"#111"});
});
</script>
</body></html>
